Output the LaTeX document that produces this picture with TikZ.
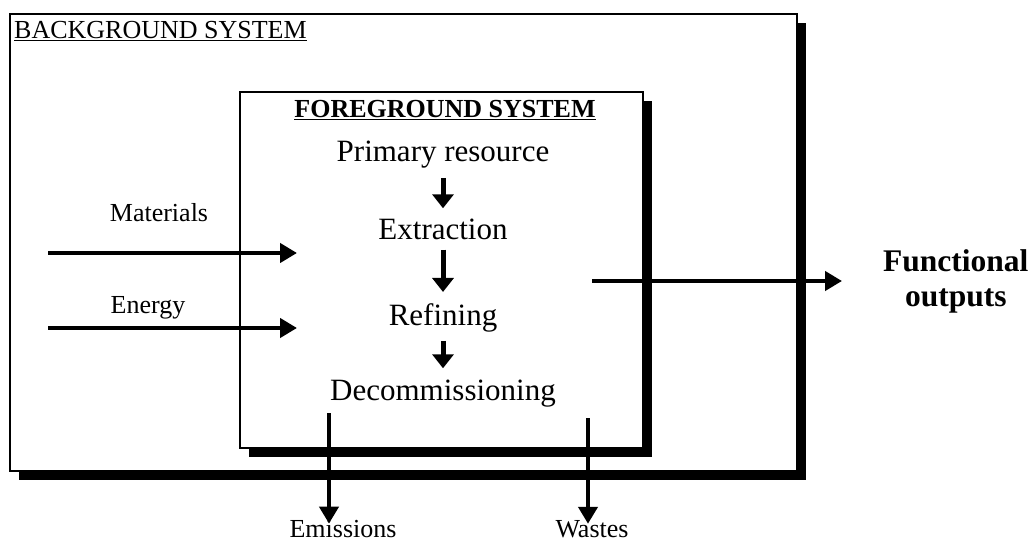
\documentclass[tikz,border=0pt]{standalone}
\usepackage{fontspec}
\setmainfont{Liberation Serif}
\usetikzlibrary{arrows.meta, positioning, calc, shadows}
\tikzset{
  sysBox/.style = {rectangle, draw=black, line width=1.3pt, fill=white, inner sep=0pt,
    drop shadow={shadow xshift=9pt, shadow yshift=-9pt, opacity=1, fill=black}},
  sysTitle/.style = {inner sep=0pt, font=\fontsize{26}{30}\selectfont},
  stage/.style = {anchor=base, inner sep=0pt, font=\fontsize{31}{36}\selectfont},
  flowLabel/.style = {anchor=base, inner sep=0pt, font=\fontsize{26}{30}\selectfont},
  outLabel/.style = {align=center, inner sep=0pt, font=\bfseries\fontsize{31.5}{35}\selectfont},
  stepArrow/.style = {-{Triangle[length=14pt,width=21pt]}, line width=5pt,
    shorten <=9pt, shorten >=11pt},
  ioArrow/.style = {-{Triangle[length=17pt,width=19pt]}, line width=4.5pt},
}

\begin{document}
\begin{tikzpicture}[x=1pt, y=-1pt]
\useasboundingbox (0,0) rectangle (1033,553);

% system boxes
\node[sysBox, minimum width=787pt, minimum height=457pt] (bg) at (403.5,242.5) {};
\node[sysTitle, anchor=base west] (bgTitle) at (14,39) {\underline{BACKGROUND SYSTEM}};
\node[sysBox, minimum width=403pt, minimum height=356pt] (fg) at (441.5,270) {};
\node[sysTitle, anchor=base, font=\bfseries\fontsize{26}{30}\selectfont] (fgTitle) at (445,118)
  {\underline{FOREGROUND SYSTEM}};

% stages
\node[stage] (prim) at (443,162) {Primary resource};
\node[stage] (extr) at (443,240) {Extraction};
\node[stage] (refi) at (443,325) {Refining};
\node[stage] (deco) at (443,400) {Decommissioning};

% inputs and outputs
\coordinate (matIn) at (48,253);
\coordinate (matEnd) at (297,253);
\coordinate (enIn) at (48,328);
\coordinate (enEnd) at (297,328);
\node[flowLabel] (mat) at (159,222) {Materials};
\node[flowLabel] (en) at (148,313) {Energy};

\coordinate (outStart) at (592,281);
\coordinate (outEnd) at (842,281);
\node[outLabel, right=41pt of outEnd] (func) {Functional\\outputs};

\coordinate (emiStart) at (329,413);
\coordinate (wasStart) at (588,418);
\node[flowLabel] (emi) at (343,537) {Emissions};
\node[flowLabel] (was) at (592,537) {Wastes};

\draw[stepArrow] (prim) -- (extr);
\draw[stepArrow] (extr) -- (refi);
\draw[stepArrow] (refi) -- (deco);
\draw[ioArrow] (matIn) -- (matEnd);
\draw[ioArrow] (enIn) -- (enEnd);
\draw[ioArrow] (outStart) -- (outEnd);
\draw[ioArrow] (emiStart) -- ([yshift=-4pt]emiStart |- emi.north);
\draw[ioArrow] (wasStart) -- ([yshift=-4pt]wasStart |- was.north);

\end{tikzpicture}
\end{document}
